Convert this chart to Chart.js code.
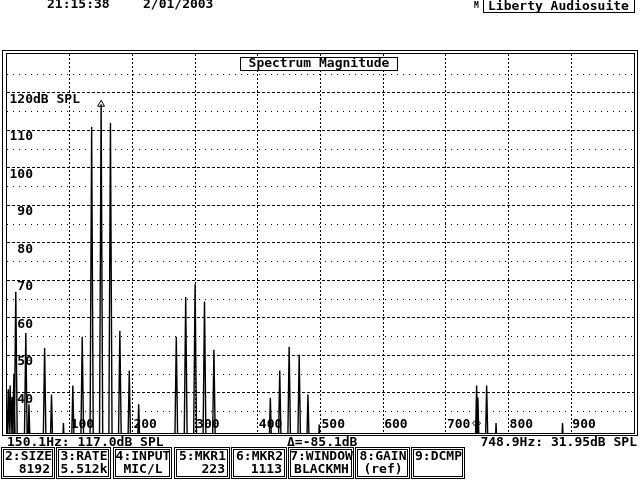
<!DOCTYPE html>
<html>
<head>
<meta charset="utf-8">
<script src="https://cdn.jsdelivr.net/npm/chart.js@4.4.0/dist/chart.umd.min.js"></script>
<style>
  html, body { margin: 0; padding: 0; background: #fff; }
  #wrap { width: 640px; height: 480px; position: relative; }
</style>
</head>
<body>
<div id="wrap"><canvas id="spectrumChart"></canvas></div>
<script>
// spectral lines (Hz, dB SPL)
const peakFreqs = [2, 5, 8, 11, 14, 30, 35, 60, 71, 90, 105, 120, 135, 150.1, 165, 180, 195, 210,
  270, 285, 300, 315, 330, 420, 435, 450, 466, 480, 498, 749, 751, 765, 780, 886];
const peakLevels = [41, 42, 39, 45, 67, 56, 37, 52, 39.6, 32, 42, 55, 111, 117, 112, 56.5, 46, 37,
  55, 65.6, 69, 64.4, 51.5, 38.7, 46, 52.3, 50.2, 39.6, 31.6, 42, 38.8, 42, 32, 32];
const floorLevel = 20;
const xTicks = [100, 200, 300, 400, 500, 600, 700, 800, 900];
const yTicks = [40, 50, 60, 70, 80, 90, 100, 110, 120];
const markerFreqs = [150.1, 748.9];
const markerLevels = [117.0, 31.95];
const buttonNames = ["2:SIZE", "3:RATE", "4:INPUT", "5:MKR1", "6:MKR2", "7:WINDOW", "8:GAIN", "9:DCMP"];
const buttonValues = ["8192", "5.512k", "MIC/L", "223", "1113", "BLACKMH", "(ref)", ""];

const FONT = 'bold 13px "DejaVu Sans Mono", monospace';

function buildSpectrum() {
  const pts = [];
  const w = 2.8;
  peakFreqs.forEach((f, i) => {
    pts.push({ x: f - w, y: floorLevel });
    pts.push({ x: f, y: peakLevels[i] });
    pts.push({ x: f + w, y: floorLevel });
  });
  return pts;
}

const screenPlugin = {
  id: "screen",
  beforeDraw(chart) {
    const ctx = chart.ctx;
    ctx.save();
    ctx.fillStyle = "#fff";
    ctx.fillRect(0, 0, chart.width, chart.height);
    ctx.restore();
  },
  afterDraw(chart) {
    const ctx = chart.ctx;
    const xs = chart.scales.x;
    const ys = chart.scales.y;
    const a = chart.chartArea;
    ctx.save();
    ctx.strokeStyle = "#000";
    ctx.fillStyle = "#000";
    ctx.lineWidth = 1;

    // double frame
    const l = Math.round(a.left), t = Math.round(a.top);
    const r = Math.round(a.right), b = Math.round(a.bottom);
    ctx.strokeRect(l - 0.5, t - 0.5, r - l + 1, b - t + 1);
    ctx.strokeRect(l - 4.5, t - 3.5, r - l + 8, b - t + 6);

    ctx.font = FONT;

    // y labels
    ctx.textBaseline = "top";
    yTicks.forEach((v) => {
      const y = ys.getPixelForValue(v);
      ctx.textAlign = "right";
      ctx.fillText(String(v), 33, y);
      if (v === 120) {
        ctx.textAlign = "left";
        ctx.fillText("dB SPL", 33, y);
      }
    });

    // x labels
    ctx.textAlign = "left";
    ctx.textBaseline = "bottom";
    xTicks.forEach((v) => {
      const x = xs.getPixelForValue(v);
      ctx.fillText(String(v), x + 1, a.bottom - 2);
    });

    // title box
    ctx.fillStyle = "#fff";
    ctx.fillRect(240, 57, 157, 14);
    ctx.strokeRect(240.5, 57.5, 157, 13);
    ctx.fillStyle = "#000";
    ctx.textAlign = "center";
    ctx.textBaseline = "middle";
    ctx.fillText("Spectrum Magnitude", 319, 64);

    // header
    ctx.textAlign = "left";
    ctx.textBaseline = "top";
    ctx.fillText("21:15:38", 47, -2);
    ctx.fillText("2/01/2003", 143, -2);
    ctx.font = 'bold 8px "DejaVu Sans Mono", monospace';
    ctx.fillText("M", 474, 2);
    ctx.font = FONT;
    ctx.strokeRect(483.5, -0.5, 151, 13);
    ctx.fillText("Liberty Audiosuite", 488, 0);

    // status line
    ctx.fillText("150.1Hz: 117.0dB SPL", 7, 436);
    ctx.fillText("\u0394=-85.1dB", 287, 436);
    ctx.textAlign = "right";
    ctx.fillText("748.9Hz: 31.95dB SPL", 637, 436);

    // function key boxes
    const boxX = [1, 56, 113, 174, 231, 288, 355, 411];
    const boxW = [53, 54, 58, 55, 55, 65, 54, 53];
    const valueRight = [true, false, false, true, true, false, false, false];
    buttonNames.forEach((name, i) => {
      const x = boxX[i];
      ctx.strokeRect(x + 0.5, 447.5, boxW[i], 31);
      ctx.strokeRect(x + 2.5, 449.5, boxW[i] - 4, 27);
      ctx.textAlign = "center";
      ctx.fillText(name, x + boxW[i] / 2 + 1, 450);
      if (valueRight[i]) {
        ctx.textAlign = "right";
        ctx.fillText(buttonValues[i], x + boxW[i] - 4, 463);
      } else {
        ctx.fillText(buttonValues[i], x + boxW[i] / 2 + 1, 463);
      }
    });
    ctx.restore();
  },
};

function createSpectrumChart() {
  const ctx = document.getElementById("spectrumChart");
  if (!ctx) return;

  return new Chart(ctx, {
    type: "scatter",
    data: {
      datasets: [
        {
          label: "Spectrum",
          data: buildSpectrum(),
          showLine: true,
          borderColor: "#000",
          borderWidth: 1.4,
          pointRadius: 0,
          tension: 0,
        },
        {
          label: "Markers",
          data: markerFreqs.map((f, i) => ({ x: f, y: markerLevels[i] })),
          pointStyle: ["triangle", "rectRot"],
          pointRadius: [4, 4],
          backgroundColor: "#fff",
          borderColor: "#000",
          borderWidth: 1,
        },
      ],
    },
    options: {
      responsive: true,
      maintainAspectRatio: false,
      animation: false,
      devicePixelRatio: 1,
      layout: { padding: { left: 7, right: 6, top: 54, bottom: 47 } },
      plugins: {
        legend: { display: false },
        tooltip: { enabled: false },
      },
      scales: {
        x: {
          type: "linear",
          min: 0,
          max: 1000,
          ticks: { display: false, stepSize: 100 },
          grid: {
            drawTicks: false,
            color: (c) => (c.tick && c.tick.value > 0 && c.tick.value < 1000 ? "#000" : "rgba(0,0,0,0)"),
          },
          border: { display: false, dash: [2, 2] },
        },
        y: {
          min: 29.33,
          max: 130.4,
          ticks: { display: false, stepSize: 5 },
          grid: {
            drawTicks: false,
            color: (c) => (c.tick && c.tick.value % 5 === 0 && c.tick.value > 30 ? "#000" : "rgba(0,0,0,0)"),
          },
          border: {
            display: false,
            dash: (c) => (c.tick && c.tick.value % 10 === 0 ? [3, 2] : [1, 5]),
          },
        },
      },
    },
    plugins: [screenPlugin],
  });
}

document.addEventListener("DOMContentLoaded", createSpectrumChart);
</script>
</body>
</html>
